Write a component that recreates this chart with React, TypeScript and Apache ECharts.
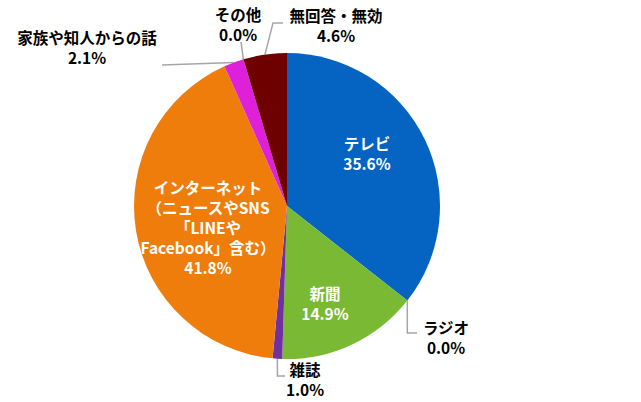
import React, { useEffect, useRef } from "react";
import * as echarts from "echarts";

const categories = [
  "テレビ",
  "ラジオ",
  "新聞",
  "雑誌",
  "インターネット\n（ニュースやSNS\n「LINEや\nFacebook」含む）",
  "家族や知人からの話",
  "その他",
  "無回答・無効",
];
const values = [35.6, 0.0, 14.9, 1.0, 41.8, 2.1, 0.0, 4.6];
const colors = ["#0563C1", "#A5A5A5", "#7AB934", "#7030A0", "#EF7D0B", "#DE20DA", "#4472C4", "#6E0000"];
const insideLabels = [true, false, true, false, true, false, false, false];

export default function App() {
  const ref = useRef<HTMLDivElement>(null);
  useEffect(() => {
    document.body.style.margin = "0";
    const chart = echarts.init(ref.current!, undefined, { renderer: "svg" });
    const font = "'Noto Sans CJK JP', 'Noto Sans', sans-serif";
    // label centres (text annotations) and leader-line bends
    const labelPos: Record<number, [number, number]> = {
      0: [367, 153],
      1: [446, 337],
      2: [325, 303],
      3: [305, 379],
      4: [208, 227],
      5: [87, 47],
      6: [238, 24],
      7: [336, 25],
    };
    const lineBends: Record<number, [number, number][]> = {
      1: [[-1, 333], [417, 333]],
      3: [[-1, 376], [285, 376]],
      5: [[162, 65], [162, 65]],
      6: [[241, 42], [241, 42]],
      7: [[273, 23], [283, 23]],
    };
    chart.setOption({
      animation: false,
      backgroundColor: "#ffffff",
      series: [
        {
          type: "pie",
          center: [287, 206],
          radius: [0, 153],
          startAngle: 90,
          clockwise: true,
          avoidLabelOverlap: false,
          itemStyle: { borderWidth: 0 },
          emphasis: { disabled: true },
          labelLine: { show: true, lineStyle: { color: "#A6A6A6", width: 1.5 } },
          data: categories.map((name, i) => ({
            name,
            value: values[i],
            itemStyle: { color: colors[i] },
            label: {
              show: true,
              position: insideLabels[i] ? "inside" : "outside",
              color: insideLabels[i] ? "#ffffff" : "#000000",
              fontFamily: font,
              fontWeight: "bold",
              fontSize: 15.5,
              lineHeight: 20,
              align: "center",
              formatter: () => `${name}\n${values[i].toFixed(1)}%`,
            },
            labelLine: { show: !insideLabels[i] },
          })),
          labelLayout: (params: any) => {
            const i = params.dataIndex;
            const p = labelPos[i];
            const res: any = { x: p[0], y: p[1], align: "center", verticalAlign: "middle" };
            const bends = lineBends[i];
            if (bends && params.labelLinePoints) {
              const s = params.labelLinePoints[0];
              const pts = [[s[0], s[1]]];
              bends.forEach((b) => pts.push([b[0] < 0 ? s[0] : b[0], b[1]]));
              res.labelLinePoints = pts;
            }
            return res;
          },
        },
      ],
    });
    return () => chart.dispose();
  }, []);
  return <div ref={ref} style={{ width: 641, height: 402 }} />;
}
